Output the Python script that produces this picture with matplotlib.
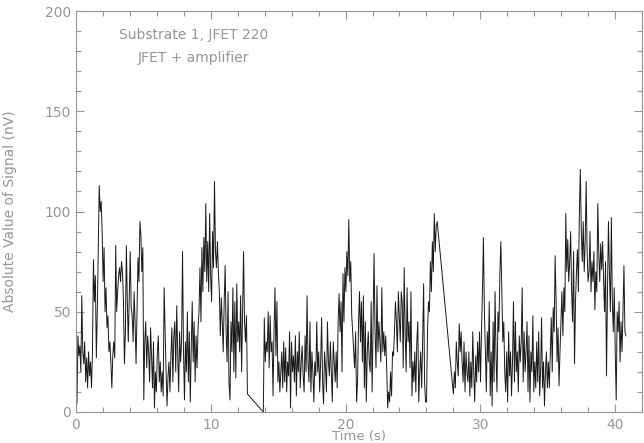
import numpy as np
import matplotlib
matplotlib.use("Agg")
import matplotlib.pyplot as plt
from matplotlib.ticker import MultipleLocator

# segment 1: 0 - 12.72 s
seg1_start, seg1_end = 0.0, 12.72
seg1 = [
    25, 4, 38, 28, 33, 20, 58, 30, 24, 35, 15, 27, 12, 30,
    18, 25, 12, 30, 76, 55, 68, 27, 50, 83, 113, 100, 105, 90,
    65, 82, 50, 62, 42, 48, 30, 35, 25, 12, 28, 35, 27, 83,
    50, 60, 68, 72, 65, 75, 70, 55, 24, 40, 83, 55, 35, 58,
    80, 52, 48, 35, 60, 45, 24, 50, 77, 65, 95, 88, 70, 82,
    6, 35, 45, 22, 38, 30, 15, 42, 28, 12, 35, 2, 20, 10,
    30, 38, 15, 25, 10, 20, 8, 62, 40, 20, 3, 18, 25, 10,
    28, 42, 15, 38, 45, 20, 53, 30, 10, 40, 25, 35, 80, 30,
    6, 35, 20, 50, 15, 40, 5, 32, 55, 25, 45, 15, 38, 22,
    42, 50, 72, 45, 82, 60, 87, 70, 104, 65, 85, 60, 99, 68,
    55, 90, 72, 115, 80, 72, 85, 70, 60, 38, 57, 45, 30, 55,
    73, 40, 25, 60, 14, 6, 45, 30, 62, 20, 55, 17, 64, 35,
    45, 30, 58, 20, 50, 80, 45, 35, 48, 9,
]

# segment 2: 13.9 - 26.8 s
seg2_start, seg2_end = 13.9, 26.8
seg2 = [
    0, 47, 25, 35, 30, 50, 22, 48, 30, 35, 8, 40, 62, 28,
    55, 15, 25, 10, 20, 30, 12, 35, 15, 32, 10, 25, 18, 40,
    2, 35, 20, 28, 15, 38, 8, 30, 20, 40, 12, 25, 33, 18,
    10, 38, 20, 58, 25, 15, 45, 10, 30, 20, 5, 25, 18, 45,
    20, 30, 10, 25, 47, 15, 4, 30, 22, 10, 45, 25, 18, 35,
    20, 5, 35, 25, 15, 30, 12, 45, 59, 40, 55, 20, 69, 45,
    72, 60, 80, 68, 96, 65, 75, 48, 40, 30, 22, 40, 5, 15,
    45, 60, 35, 55, 25, 58, 12, 45, 5, 30, 40, 25, 20, 55,
    10, 45, 79, 40, 22, 63, 30, 45, 35, 25, 62, 30, 40, 28,
    38, 22, 2, 10, 5, 20, 8, 30, 28, 40, 55, 45, 30, 60,
    48, 35, 60, 55, 22, 72, 40, 20, 62, 35, 45, 22, 60, 8,
    25, 15, 30, 10, 35, 45, 5, 20, 30, 12, 35, 64, 15, 5,
    5, 40, 55, 50, 75, 60, 85, 70, 99, 80, 93, 95,
]

# segment 3: 28.0 - 40.8 s
seg3_start, seg3_end = 28.0, 40.8
seg3 = [
    9, 20, 12, 35, 25, 18, 44, 30, 40, 25, 15, 35, 10, 30,
    20, 15, 30, 8, 25, 12, 40, 20, 5, 28, 15, 35, 20, 40,
    15, 40, 60, 87, 50, 30, 10, 40, 25, 55, 8, 30, 3, 45,
    15, 60, 28, 10, 50, 40, 70, 85, 60, 35, 45, 20, 10, 30,
    5, 40, 18, 30, 8, 25, 55, 15, 45, 20, 30, 10, 38, 25,
    35, 62, 15, 40, 20, 30, 45, 10, 38, 5, 30, 20, 48, 10,
    25, 12, 35, 15, 40, 8, 20, 47, 12, 25, 3, 20, 30, 12,
    25, 12, 30, 47, 20, 52, 40, 78, 55, 25, 42, 13, 30, 45,
    60, 38, 62, 50, 99, 70, 86, 65, 75, 90, 60, 45, 80, 24,
    55, 70, 81, 60, 100, 121, 90, 75, 95, 70, 85, 115, 80, 65,
    70, 90, 60, 75, 65, 80, 51, 70, 60, 104, 80, 65, 84, 71,
    85, 65, 50, 75, 18, 60, 95, 70, 50, 97, 55, 40, 62, 30,
    6, 50, 40, 55, 25, 45, 30, 50, 73, 40, 38,
]

title_lines = ["Substrate 1, JFET 220", "JFET + amplifier"]

t = np.concatenate([
    np.linspace(seg1_start, seg1_end, len(seg1)),
    np.linspace(seg2_start, seg2_end, len(seg2)),
    np.linspace(seg3_start, seg3_end, len(seg3)),
])
signal = np.array(seg1 + seg2 + seg3, dtype=float)

gray = "#969696"
fig = plt.figure(figsize=(6.44, 4.43), dpi=100)
ax = fig.add_axes([0.118, 0.070, 0.879, 0.905])

ax.plot(t, signal, color="#1a1a1a", lw=0.7)

ax.set_xlim(0, 42)
ax.set_ylim(0, 200)
ax.xaxis.set_major_locator(MultipleLocator(10))
ax.xaxis.set_minor_locator(MultipleLocator(2))
ax.yaxis.set_major_locator(MultipleLocator(50))
ax.yaxis.set_minor_locator(MultipleLocator(10))
ax.tick_params(which="both", direction="in", top=True, right=True,
               color=gray, labelcolor=gray, labelsize=10, width=0.8)
ax.tick_params(which="major", length=6)
ax.tick_params(which="minor", length=3.5)
ax.tick_params(axis="x", pad=4)
for s in ax.spines.values():
    s.set_color(gray)
    s.set_linewidth(0.8)

ax.set_xlabel("Time (s)", color=gray, fontsize=9.5, labelpad=-1)
ax.set_ylabel("Absolute Value of Signal (nV)", color=gray, fontsize=10, labelpad=20)

ax.text(8.7, 188, title_lines[0], ha="center", va="center", color=gray, fontsize=10)
ax.text(8.7, 176.5, title_lines[1], ha="center", va="center", color=gray, fontsize=10)

fig.savefig("out.png", dpi=100)
